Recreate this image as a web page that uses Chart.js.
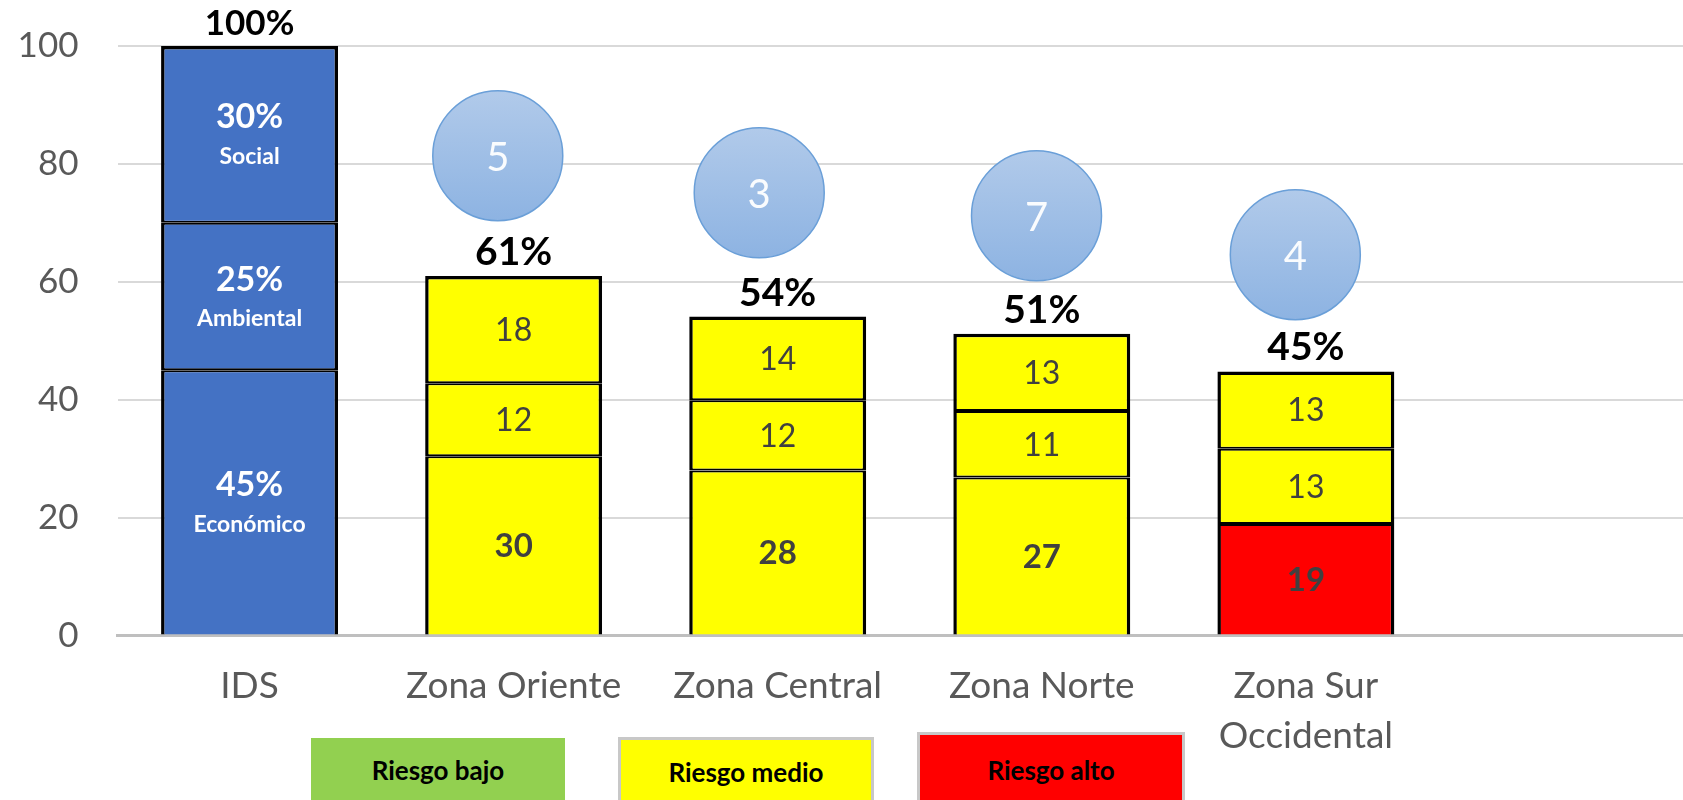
<!DOCTYPE html>
<html>
<head>
<meta charset="utf-8">
<script src="https://cdn.jsdelivr.net/npm/chart.js@4.4.1/dist/chart.umd.min.js"></script>
<style>
html,body{margin:0;padding:0;background:#fff;overflow:hidden;width:1683px;height:800px;}
#wrap{position:absolute;left:0;top:0;width:1683px;height:800px;overflow:hidden;background:#fff;}
#c{position:absolute;left:0;top:0;}
.leg{position:absolute;display:flex;align-items:center;justify-content:center;box-sizing:border-box;
  font-family:Lato,'Open Sans',sans-serif;font-weight:bold;font-size:26px;color:#000;}
</style>
</head>
<body>
<div id="wrap"><canvas id="c" width="1702" height="800"></canvas></div>
<script>
// ---------- data ----------
const categories = ['IDS', 'Zona Oriente', 'Zona Central', 'Zona Norte', ['Zona Sur', 'Occidental'], ''];
const segBottom = [45, 30.4, 28.0, 26.8, 18.9];
const segMiddle = [25, 12.4, 11.9, 11.3, 12.8];
const segTop    = [30, 18.2, 14.2, 13.1, 13.1];
const idsDimensions = ['Económico', 'Ambiental', 'Social'];
const bubbleCounts = [5, 3, 7, 4];
const bubbleX = [0.94, 1.93, 2.98, 3.96];
const bubbleY = [81.4, 75.1, 71.2, 64.6];
const yTicks = [0, 20, 40, 60, 80, 100];
const riskLabels = ['Riesgo bajo', 'Riesgo medio', 'Riesgo alto'];

// ---------- styles ----------
const FONT = "Lato, 'Open Sans', sans-serif";
const BLUE = '#4472C4', YEL = '#FFFF00', RED = '#FF0000';
const bottomColors = [BLUE, YEL, YEL, YEL, RED];
const upperColors  = [BLUE, YEL, YEL, YEL, YEL];
const riskColors = ['#92D050', '#FFFF00', '#FF0000'];
const BUBBLE_R = 65;
const riskBoxes = [
  {left: 311, top: 738, width: 254, height: 63, border: 'none'},
  {left: 618, top: 737, width: 256, height: 66, border: '3px solid #C8C8C8'},
  {left: 917, top: 732, width: 268, height: 72, border: '3px solid #C8C8C8'}
];
riskLabels.forEach((t, i) => {
  const d = document.createElement('div');
  d.className = 'leg';
  const b = riskBoxes[i];
  d.style.left = b.left + 'px'; d.style.top = b.top + 'px';
  d.style.width = b.width + 'px'; d.style.height = b.height + 'px';
  d.style.background = riskColors[i];
  if (b.border !== 'none') { d.style.borderTop = b.border; d.style.borderLeft = b.border; d.style.borderRight = b.border; }
  d.textContent = t;
  document.getElementById('wrap').appendChild(d);
});

const labelPlugin = {
  id: 'labels',
  afterDatasetsDraw(chart) {
    const ctx = chart.ctx;
    ctx.save();
    ctx.textAlign = 'center';
    ctx.textBaseline = 'middle';
    const segs = [segBottom, segMiddle, segTop];
    for (let d = 0; d < 3; d++) {
      const meta = chart.getDatasetMeta(d);
      meta.data.forEach((el, j) => {
        const v = segs[d][j];
        const cy = (el.y + el.base) / 2;
        if (j === 0) {
          ctx.fillStyle = '#FFFFFF';
          ctx.font = 'bold 34px ' + FONT;
          ctx.fillText(Math.round(v) + '%', el.x, cy - 17);
          ctx.font = 'bold 23px ' + FONT;
          ctx.fillText(idsDimensions[d], el.x, cy + 22);
        } else {
          ctx.fillStyle = '#404040';
          ctx.font = (d === 0 ? 'bold 33px ' : '32px ') + FONT;
          ctx.fillText(String(Math.round(v)), el.x, cy + 1);
        }
      });
    }
    const topMeta = chart.getDatasetMeta(2);
    topMeta.data.forEach((el, j) => {
      const total = segBottom[j] + segMiddle[j] + segTop[j];
      ctx.fillStyle = '#000000';
      ctx.textBaseline = 'alphabetic';
      ctx.font = (j === 0 ? 'bold 35px ' : 'bold 39px ') + FONT;
      ctx.fillText(Math.round(total) + '%', el.x, el.y - 11);
    });
    const bm = chart.getDatasetMeta(3);
    ctx.textBaseline = 'middle';
    ctx.fillStyle = 'rgba(255,255,255,0.95)';
    ctx.font = '40px ' + FONT;
    bm.data.forEach((el, j) => {
      ctx.fillText(String(bubbleCounts[j]), el.x, el.y + 2);
    });
    ctx.restore();
  }
};

function bubbleFill(context) {
  const chart = context.chart;
  const ys = chart.scales && chart.scales.y;
  if (!ys || context.dataIndex === undefined || !chart.chartArea) return '#9DBDE5';
  const py = ys.getPixelForValue(bubbleY[context.dataIndex]);
  const g = chart.ctx.createLinearGradient(0, py - BUBBLE_R, 0, py + BUBBLE_R);
  g.addColorStop(0, '#B1CAEA');
  g.addColorStop(1, '#8DB3E2');
  return g;
}

const barBase = {type: 'bar', borderColor: '#000000', borderSkipped: false, stack: 's', grouped: false,
  categoryPercentage: 0.67, barPercentage: 1, xAxisID: 'x', yAxisID: 'y'};

new Chart(document.getElementById('c'), {
  type: 'bar',
  data: {
    labels: categories,
    datasets: [
      Object.assign({}, barBase, {label: 'Seg1', data: segBottom, backgroundColor: bottomColors,
        borderWidth: {top: 2, bottom: 0, left: 3.5, right: 3.5}}),
      Object.assign({}, barBase, {label: 'Seg2', data: segMiddle, backgroundColor: upperColors,
        borderWidth: {top: 2, bottom: 2, left: 3.5, right: 3.5}}),
      Object.assign({}, barBase, {label: 'Seg3', data: segTop, backgroundColor: upperColors,
        borderWidth: {top: 3.5, bottom: 2, left: 3.5, right: 3.5}}),
      {type: 'bubble', label: 'Municipios', xAxisID: 'x2', yAxisID: 'y',
        data: bubbleX.map((x, i) => ({x: x, y: bubbleY[i]})),
        radius: BUBBLE_R, hoverRadius: 0, backgroundColor: bubbleFill, borderColor: '#6A9FD8', borderWidth: 1.5, clip: false}
    ]
  },
  options: {
    responsive: false,
    animation: false,
    events: [],
    layout: {autoPadding: false, padding: {top: 46, bottom: 12.6, left: 0, right: 0}},
    plugins: {legend: {display: false}, tooltip: {enabled: false}},
    scales: {
      x: {
        type: 'category',
        stacked: true,
        offset: true,
        grid: {display: false, drawTicks: false},
        border: {display: true, color: '#BFBFBF', width: 3},
        ticks: {color: '#595959', font: {family: FONT, size: 37, lineHeight: 1.35}, padding: 26, maxRotation: 0, autoSkip: false}
      },
      x2: {type: 'linear', display: false, offset: false, grid: {offset: false}, min: -0.5, max: 5.5},
      y: {
        stacked: true,
        min: 0, max: 100,
        afterBuildTicks(s) { s.ticks = yTicks.map(v => ({value: v})); },
        afterFit(s) { s.width = 117.5; s.paddingTop = 0; s.paddingBottom = 0; },
        grid: {color: '#D9D9D9', lineWidth: 2, drawTicks: false},
        border: {display: false},
        ticks: {color: '#595959', font: {family: FONT, size: 35}, padding: 39}
      }
    }
  },
  plugins: [labelPlugin]
});
</script>
</body>
</html>
